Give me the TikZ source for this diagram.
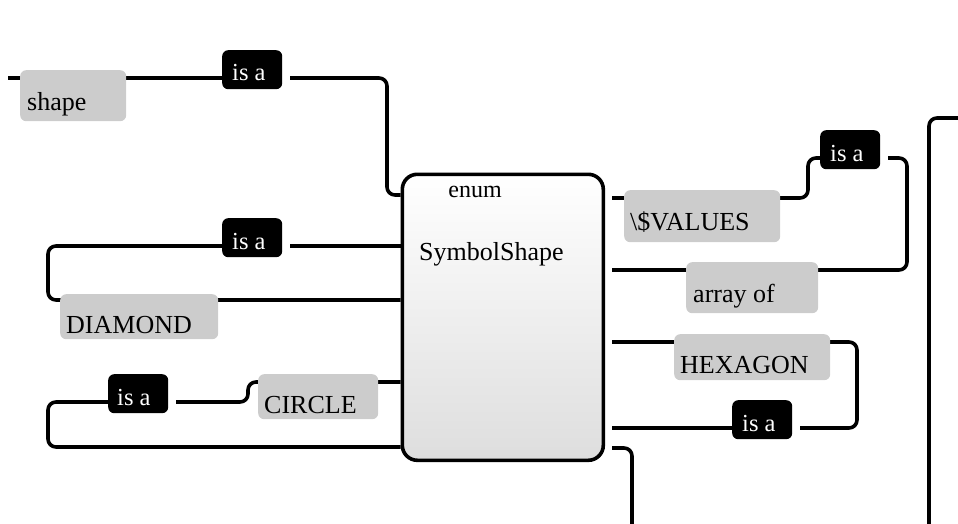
\documentclass[tikz,border=0pt]{standalone}
\usepackage{fontspec}
\setmainfont{Liberation Serif}
\usetikzlibrary{backgrounds}
\begin{document}
\begin{tikzpicture}[x=1pt,y=-1pt,
  conn/.style={line width=3.6pt, rounded corners=8pt},
  lbl/.style={fill=black!20, rounded corners=6pt, inner sep=0pt, anchor=north west},
  isabox/.style={fill=black, rounded corners=6pt, inner sep=0pt, anchor=north west, minimum width=60pt, minimum height=39pt},
  txt/.style={inner sep=0pt, anchor=base west, font=\fontsize{26}{30}\selectfont},
  wtxt/.style={txt, text=white, font=\fontsize{24.5}{28}\selectfont}]
\useasboundingbox (0,0) rectangle (958,524);

% main enum box
\node[draw, line width=3.6pt, rounded corners=15pt, top color=white, bottom color=black!13,
      minimum width=201pt, minimum height=286pt, inner sep=0pt, anchor=north west] (sym) at (400.5,172.5) {};
\node[txt, anchor=base, font=\fontsize{24}{28}\selectfont] (enumtxt) at (475,197) {enum};
\node[txt] (symtxt) at (419,260) {SymbolShape};

% gray labels
\node[lbl, minimum width=106pt, minimum height=51pt] (shape) at (20,70) {};
\node[txt] (shapetxt) at (27,111) {shape};
\node[lbl, minimum width=158pt, minimum height=45pt] (diamond) at (60,294) {};
\node[txt] (diamondtxt) at (66,333) {DIAMOND};
\node[lbl, minimum width=120pt, minimum height=45pt] (circle) at (258,374) {};
\node[txt] (circletxt) at (264,413) {CIRCLE};
\node[lbl, minimum width=156pt, minimum height=52pt] (values) at (624,190) {};
\node[txt] (valuestxt) at (630,230) {\textbackslash\$VALUES};
\node[lbl, minimum width=132pt, minimum height=51pt] (arrayof) at (686,262) {};
\node[txt] (arrayoftxt) at (693,302) {array of};
\node[lbl, minimum width=156pt, minimum height=46pt] (hexagon) at (674,334) {};
\node[txt] (hexagontxt) at (680,373) {HEXAGON};

% black "is a" boxes
\node[isabox] (isa1) at (222,50) {};
\node[wtxt] (isa1t) at (232,81) {is a};
\node[isabox] (isa2) at (222,218) {};
\node[wtxt] (isa2t) at (232,249) {is a};
\node[isabox] (isa3) at (108,374) {};
\node[wtxt] (isa3t) at (117,405) {is a};
\node[isabox] (isa4) at (820,130) {};
\node[wtxt] (isa4t) at (830,161) {is a};
\node[isabox] (isa5) at (732,400) {};
\node[wtxt] (isa5t) at (742,431) {is a};

\coordinate (e1) at (8,78);
\coordinate (e2) at (632,530);
\coordinate (e3) at (929,530);
\coordinate (e4) at (965,118);

\begin{scope}[on background layer]
% shape
\draw[conn] (e1) -- (isa1.west |- e1);
\draw[conn] (290,78) -- (387,78) -- (387,195) -- (sym.west |- 0,195);
% diamond
\draw[conn] (sym.west |- 0,246) -- (290,246);
\draw[conn] (isa2.west |- 0,246) -- (48,246) -- (48,300) -- (sym.west |- 0,300);
% circle
\draw[conn] (sym.west |- 0,382) -- (266,382) -- (248,382) -- (248,402) -- (176,402);
\draw[conn] (isa3.west |- 0,402) -- (48,402) -- (48,447) -- (sym.west |- 0,447);
% values
\draw[conn] (612,198) -- (808,198) -- (808,158) -- (isa4.west |- 0,158);
\draw[conn] (888,158) -- (907,158) -- (907,270) -- (612,270);
% hexagon
\draw[conn] (612,342) -- (857,342) -- (857,428) -- (800,428);
\draw[conn] (isa5.west |- 0,428) -- (612,428);
% bottom
\draw[conn] (612,448) -- (632,448) -- (e2);
% right
\draw[conn] (e3) -- (929,118) -- (e4);
\end{scope}
\end{tikzpicture}
\end{document}
